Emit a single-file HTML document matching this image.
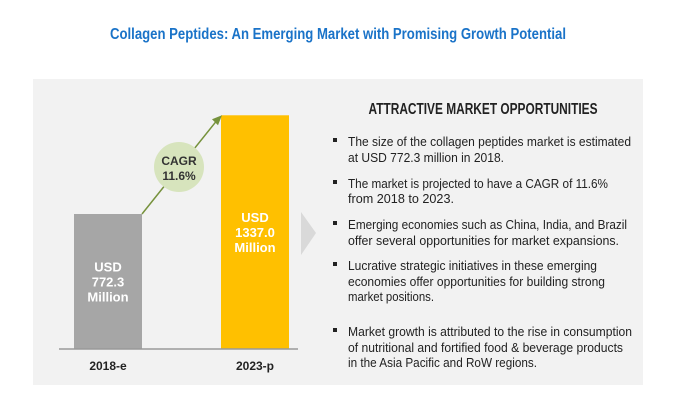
<!DOCTYPE html>
<html><head><meta charset="utf-8"><style>
html,body{margin:0;padding:0;background:#fff;width:678px;height:405px;overflow:hidden}
svg{display:block;font-family:"Liberation Sans",sans-serif}
</style></head><body>
<svg id="chart" width="678" height="405" viewBox="0 0 678 405">
<text x="338" y="39" text-anchor="middle" font-size="16" font-weight="bold" fill="#1a73c8" textLength="456" lengthAdjust="spacingAndGlyphs">Collagen Peptides: An Emerging Market with Promising Growth Potential</text>
<rect x="33" y="79" width="610" height="306" fill="#f2f2f2"/>
<g id="bars"></g>
<polygon points="301,212 316,233 301,255" fill="#d9d9d9"/>
<text x="483" y="114" text-anchor="middle" font-size="16" font-weight="bold" fill="#222" textLength="229" lengthAdjust="spacingAndGlyphs">ATTRACTIVE MARKET OPPORTUNITIES</text>
<g id="bullets" font-size="13" fill="#222"></g>
</svg>
<script>
const categories = ["2018-e", "2023-p"];
const values = [772.3, 1337.0];
const valueLabels = ["772.3", "1337.0"];
const cagrLabel = "11.6%";

const NS = "http://www.w3.org/2000/svg";
const baseY = 349, pxPerUnit = 135 / 772.3;
const y = v => baseY - v * pxPerUnit;
const barX = [74, 221], barW = 68;
const colors = ["#a6a6a6", "#ffc000"];
const g = document.getElementById("bars");
function mk(tag, attrs, parent) { const e = document.createElementNS(NS, tag); for (const k in attrs) e.setAttribute(k, attrs[k]); (parent || g).appendChild(e); return e; }

values.forEach((v, i) => {
  const r = mk("rect", { x: barX[i], y: y(v), width: barW, height: baseY - y(v), fill: colors[i] });
  
  
  const cx = barX[i] + barW / 2, my = (y(v) + baseY) / 2;
  ["USD", valueLabels[i], "Million"].forEach((s, j) => {
    const t = mk("text", { x: cx, y: my - 10 + j * 15, "text-anchor": "middle", "font-size": "13", "font-weight": "bold", fill: "#fff" });
    t.textContent = s;
    
    
  });
  const c = mk("text", { x: cx, y: 370, "text-anchor": "middle", "font-size": "12", "font-weight": "bold", fill: "#222" });
  c.textContent = categories[i];
  
  
});
const axis = mk("line", { x1: 59, x2: 298, y1: baseY, y2: baseY, stroke: "#999", "stroke-width": 1.5 });


const x1 = barX[0] + barW, y1 = y(values[0]), x2 = barX[1], y2 = y(values[1]);
const ln = mk("line", { x1: x1, y1: y1, x2: x2 - 4, y2: y2 + 5, stroke: "#76923c", "stroke-width": 1.5 });


const ah = mk("polygon", { points: `${x2+1},${y2} ${x2-9},${y2+4} ${x2-3},${y2+10}`, fill: "#76923c" });


const circ = mk("circle", { cx: 179, cy: 167, r: 25, fill: "#d7e4bd" });


["CAGR", cagrLabel].forEach((s, j) => {
  const t = mk("text", { x: 179, y: 165 + j * 15, "text-anchor": "middle", "font-size": "12", "font-weight": "bold", fill: "#333" });
  t.textContent = s;
  
  
});

const lines = [
  ["The size of the collagen peptides market is estimated", 283, 146, true],
  ["at USD 772.3 million in 2018.", 156, 162, false],
  ["The market is projected to have a CAGR of 11.6%", 260, 188, true],
  ["from 2018 to 2023.", 106, 203, false],
  ["Emerging economies such as China, India, and Brazil", 279, 229, true],
  ["offer several opportunities for market expansions.", 271, 245, false],
  ["Lucrative strategic initiatives in these emerging", 249, 270, true],
  ["economies offer opportunities for building strong", 257, 286, false],
  ["market positions.", 86, 301, false],
  ["Market growth is attributed to the rise in consumption", 284, 336, true],
  ["of nutritional and fortified food & beverage products", 275, 352, false],
  ["in the Asia Pacific and RoW regions.", 189, 367, false]
];
const bg = document.getElementById("bullets");
lines.forEach(l => {
  if (l[3]) {
    const b = mk("rect", { x: 333, y: l[2] - 8, width: 4, height: 4, fill: "#222" }, bg);
    
    
  }
  const t = mk("text", { x: 348, y: l[2], textLength: l[1], lengthAdjust: "spacingAndGlyphs" }, bg);
  t.textContent = l[0];
  
  
});
</script>
</body></html>
